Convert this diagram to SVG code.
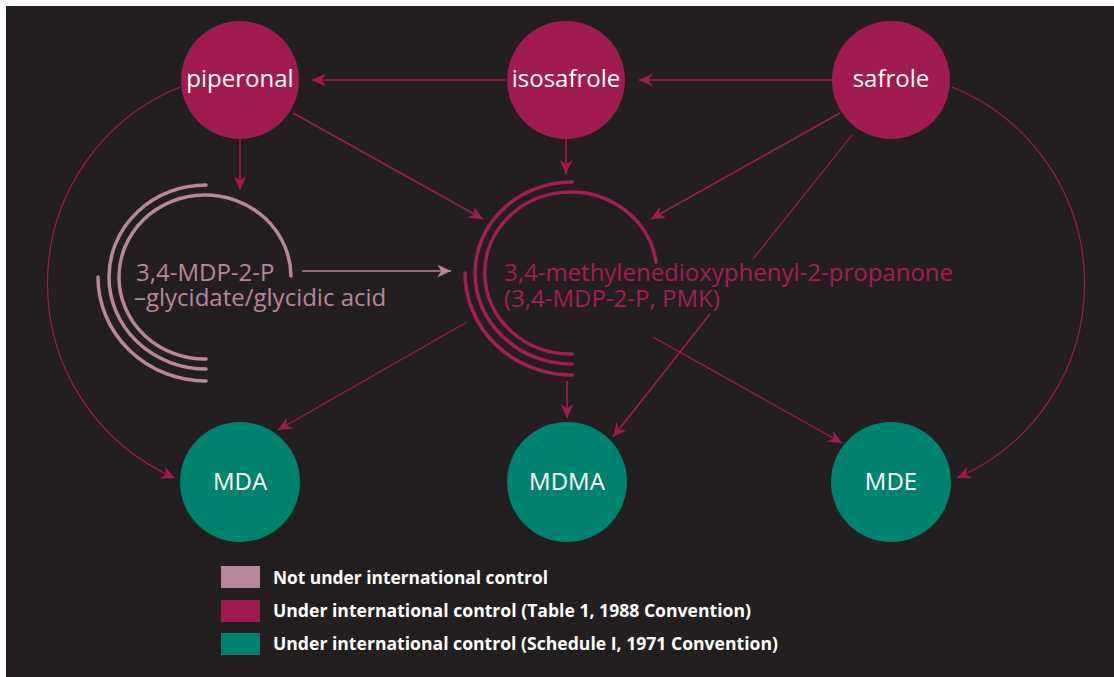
<svg xmlns="http://www.w3.org/2000/svg" width="1114" height="677" viewBox="0 0 1114 677">
<defs>
<style>
.bg{fill:#231f20}
.mag{fill:#a01c50}
.teal{fill:#008270}
.nt{font-family:"Open Sans","Noto Sans",sans-serif;font-size:24px;fill:#ffffff;text-anchor:middle}
.lbl{font-family:"Open Sans","Noto Sans",sans-serif;font-size:24px}
.leg{font-family:"Open Sans","Noto Sans",sans-serif;font-size:17.5px;font-weight:bold;fill:#ffffff}
.c{fill:none;stroke:#a01c50;stroke-width:1.7}
.thin{stroke-width:1.2}
.cp{fill:none;stroke:#b7879c;stroke-width:1.7}
.arcp{fill:none;stroke:#b7879c;stroke-width:3.5;stroke-linecap:round}
.arcm{fill:none;stroke:#a51d55;stroke-width:3.5;stroke-linecap:round}
</style>
<marker id="am" markerUnits="userSpaceOnUse" markerWidth="15" markerHeight="14" refX="14" refY="6.5" orient="auto" viewBox="0 0 15 14">
<path d="M0,0 L14,6.5 L0,13 L4.5,6.5 Z" fill="#a01c50"/>
</marker>
<marker id="ap" markerUnits="userSpaceOnUse" markerWidth="15" markerHeight="14" refX="14" refY="6.5" orient="auto" viewBox="0 0 15 14">
<path d="M0,0 L14,6.5 L0,13 L4.5,6.5 Z" fill="#b7879c"/>
</marker>
</defs>
<rect class="bg" x="6" y="6" width="1108" height="671"/>

<g id="connectors">
<line class="c" x1="506" y1="80" x2="312" y2="80" marker-end="url(#am)"/>
<line class="c" x1="832" y1="80" x2="639" y2="80" marker-end="url(#am)"/>
<line class="c" x1="240" y1="139" x2="240" y2="190" marker-end="url(#am)"/>
<line class="c" x1="566" y1="139" x2="566" y2="174" marker-end="url(#am)"/>
<line class="c" x1="293" y1="113" x2="483" y2="219" marker-end="url(#am)"/>
<line class="c" x1="840" y1="113" x2="651" y2="219" marker-end="url(#am)"/>
<line class="c thin" x1="852" y1="135" x2="753" y2="259"/>
<line class="c" x1="710" y1="314" x2="613" y2="437" marker-end="url(#am)"/>
<line class="c thin" x1="467" y1="322" x2="278" y2="430" marker-end="url(#am)"/>
<line class="c" x1="567" y1="381" x2="567" y2="418" marker-end="url(#am)"/>
<line class="c thin" x1="653" y1="337" x2="842" y2="443" marker-end="url(#am)"/>
<line class="cp" x1="302" y1="271" x2="451" y2="271" marker-end="url(#ap)"/>
<path class="c thin" d="M180,87 A212,212 0 0 0 175,478" marker-end="url(#am)"/>
<path class="c thin" d="M952,87 A212,212 0 0 1 957,478" marker-end="url(#am)"/>
</g>

<g id="glycidate">
<path class="arcp" d="M206,359 A86,82 0 1 1 291,276"/>
<path class="arcp" d="M206,369 A97,92 0 0 1 109,277 A97,92 0 0 1 206,185"/>
<path class="arcp" d="M98,277 A108,104 0 0 0 206,381"/>
<text class="lbl" fill="#b7879c"><tspan x="136" y="281">3,4-MDP-2-P</tspan><tspan x="134" y="306">–glycidate/glycidic acid</tspan></text>
</g>

<g id="pmk">
<path class="arcm" d="M572,354 A86,81 0 1 1 656,262"/>
<path class="arcm" d="M572,364 A97,91 0 0 1 475,273 A97,91 0 0 1 572,182"/>
<path class="arcm" d="M465,273 A107,102 0 0 0 572,375"/>
<text class="lbl" fill="#a51d55"><tspan x="504" y="281">3,4-methylenedioxyphenyl-2-propanone</tspan><tspan x="504" y="307">(3,4-MDP-2-P, PMK)</tspan></text>
</g>

<g id="piperonal"><circle class="mag" cx="240" cy="80" r="59"/><text class="nt" x="240" y="87">piperonal</text></g>
<g id="isosafrole"><circle class="mag" cx="566" cy="80" r="59"/><text class="nt" x="566" y="87">isosafrole</text></g>
<g id="safrole"><circle class="mag" cx="891" cy="80" r="59"/><text class="nt" x="891" y="87">safrole</text></g>
<g id="MDA"><circle class="teal" cx="240" cy="482" r="60"/><text class="nt" x="240" y="490">MDA</text></g>
<g id="MDMA"><circle class="teal" cx="567" cy="482" r="60"/><text class="nt" x="567" y="490">MDMA</text></g>
<g id="MDE"><circle class="teal" cx="891" cy="482" r="60"/><text class="nt" x="891" y="490">MDE</text></g>

<g id="legend">
<rect x="221" y="566" width="39" height="22" fill="#b7879c"/>
<rect x="221" y="600" width="39" height="22" fill="#a01c50"/>
<rect x="221" y="633" width="39" height="22" fill="#008270"/>
<text class="leg" x="273" y="584" textLength="275" lengthAdjust="spacingAndGlyphs">Not under international control</text>
<text class="leg" x="273" y="617" textLength="478" lengthAdjust="spacingAndGlyphs">Under international control (Table 1, 1988 Convention)</text>
<text class="leg" x="273" y="650" textLength="505" lengthAdjust="spacingAndGlyphs">Under international control (Schedule I, 1971 Convention)</text>
</g>
</svg>
